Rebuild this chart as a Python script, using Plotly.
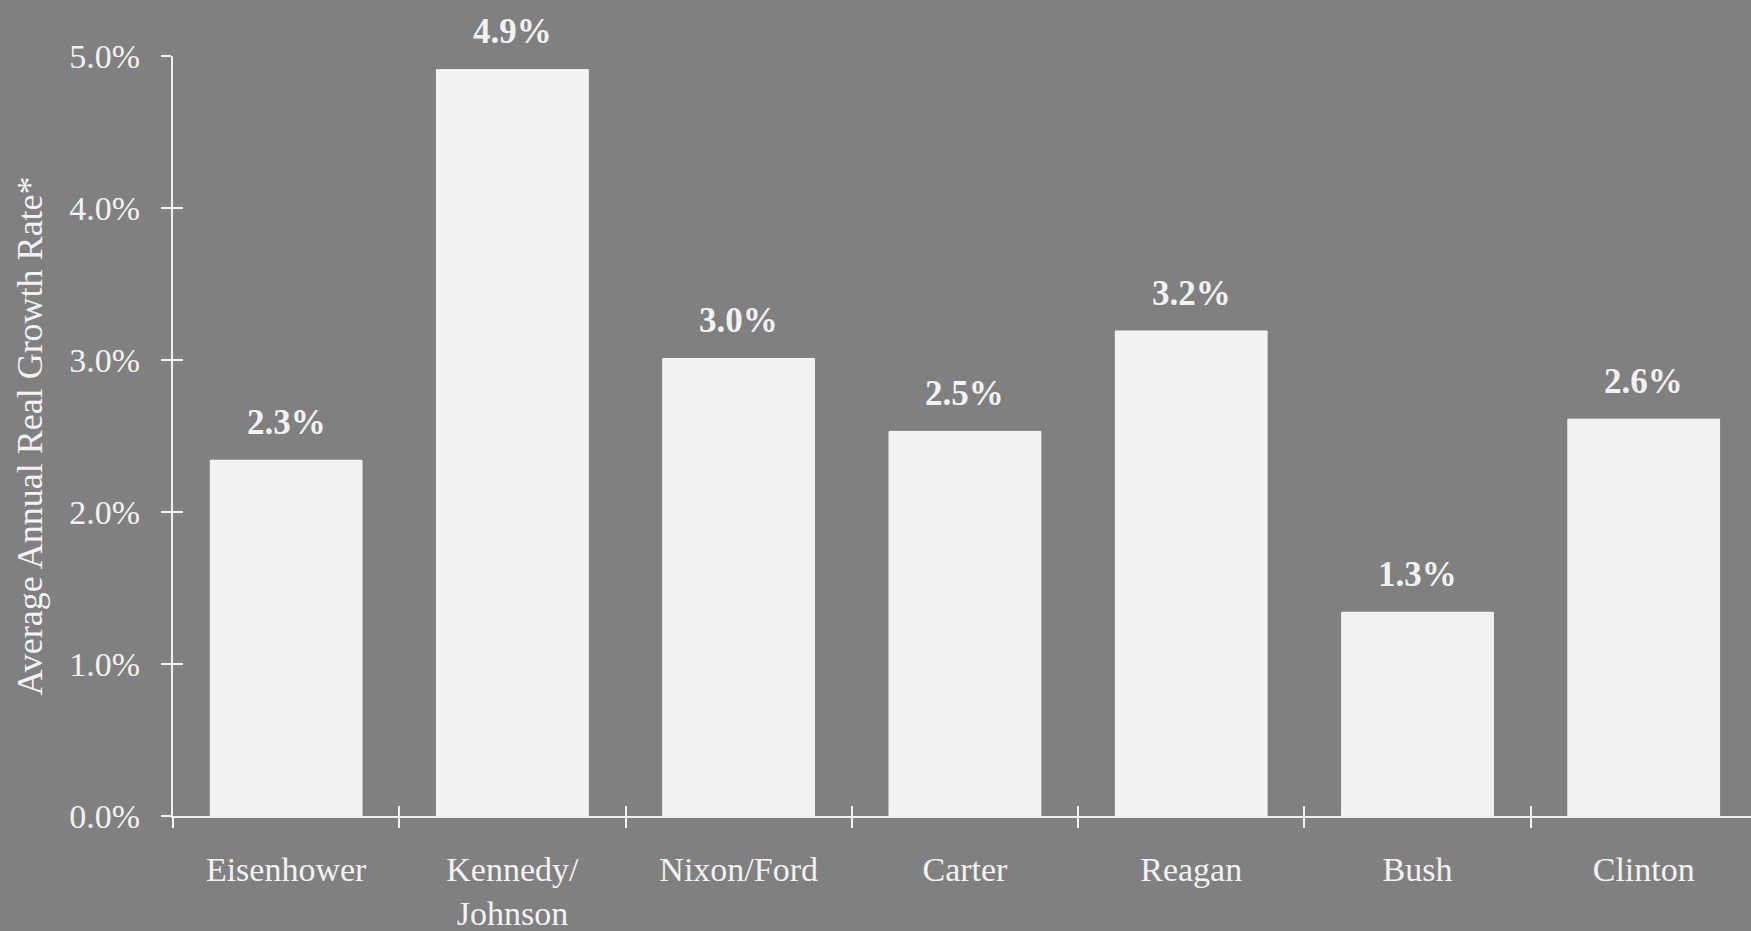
import plotly.graph_objects as go

presidents = ["Eisenhower", "Kennedy/<br>Johnson", "Nixon/Ford", "Carter", "Reagan", "Bush", "Clinton"]
growth = [0.0234, 0.0491, 0.0301, 0.0253, 0.0319, 0.0134, 0.0261]
y_ticks = [0.0, 0.01, 0.02, 0.03, 0.04, 0.05]

BG = "#808080"
FG = "#f2f2f2"
FONT = "Liberation Serif, Times New Roman, serif"

fig = go.Figure()
fig.add_trace(go.Bar(
    x=presidents, y=growth, width=0.67,
    marker=dict(color=FG, line=dict(color="#ffffff", width=1)),
    hoverinfo="x+y", showlegend=False,
))
# overlay trace to carry the inward half of the crossing ticks
fig.add_trace(go.Bar(
    x=presidents, y=growth, width=0.67, xaxis="x2", yaxis="y2",
    marker=dict(color="rgba(0,0,0,0)"), hoverinfo="skip", showlegend=False,
))

for p, v in zip(presidents, growth):
    fig.add_annotation(x=p, y=v, text=f"<b>{v:.1%}</b>", showarrow=False,
                       yshift=38, font=dict(family=FONT, size=35, color=FG))

xr = [-0.5, 6.474]
yr = [0, 0.05]
common_x = dict(range=xr, tickson="boundaries", showgrid=False, zeroline=False,
                ticklen=10, tickwidth=2, tickcolor=FG)
common_y = dict(range=yr, tickvals=y_ticks, showgrid=False, zeroline=False,
                ticklen=10, tickwidth=2, tickcolor=FG)

fig.update_layout(
    width=1751, height=931,
    margin=dict(l=173, r=0, t=56, b=115),
    paper_bgcolor=BG, plot_bgcolor=BG,
    font=dict(family=FONT, color=FG, size=30),
    xaxis=dict(**common_x, ticks="outside", showline=True, linecolor=FG, linewidth=2,
               tickfont=dict(family=FONT, size=34, color=FG), ticklabelstandoff=22),
    yaxis=dict(**common_y, ticks="outside", tickformat=".1%", showline=True,
               linecolor=FG, linewidth=2,
               tickfont=dict(family=FONT, size=34, color=FG), ticklabelstandoff=14,
               title=dict(text="Average Annual Real Growth Rate*", standoff=16,
                          font=dict(family=FONT, size=36, color=FG))),
    xaxis2=dict(**common_x, ticks="inside", overlaying="x", matches="x",
                showticklabels=False, showline=False),
    yaxis2=dict(**common_y, ticks="inside", overlaying="y", matches="y",
                showticklabels=False, showline=False),
)

fig.write_html("out.html", config={"displayModeBar": False},
               post_script="document.body.style.margin='0';document.body.style.background='#808080';")
